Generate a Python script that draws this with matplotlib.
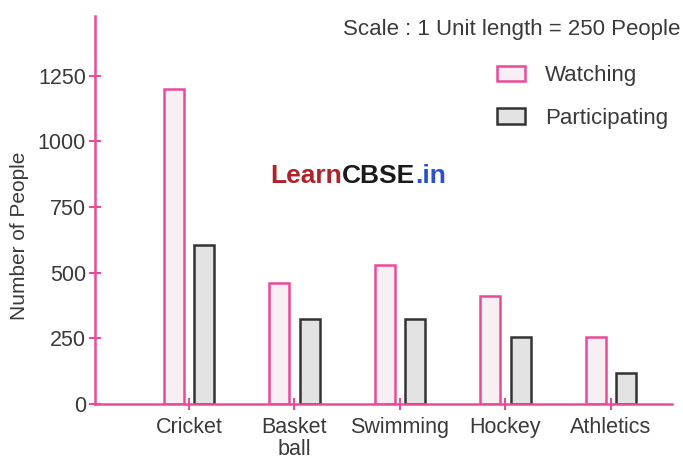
import numpy as np
import matplotlib.pyplot as plt
from matplotlib.patches import Patch

plt.rcParams['font.family'] = ['Liberation Sans', 'DejaVu Sans']

# data
sports = ['Cricket', 'Basket\nball', 'Swimming', 'Hockey', 'Athletics']
watching = [1200, 460, 530, 410, 255]
participating = [605, 325, 325, 255, 118]
y_ticks = [0, 250, 500, 750, 1000, 1250]

pink = '#ea4a98'
grey_edge = '#333333'
text_col = '#3a3a3a'

fig = plt.figure(figsize=(6.83, 4.61), dpi=100)
ax = fig.add_axes([0.139, 0.1236, 0.845, 0.8414])

x = np.arange(len(sports))
w = 0.19
off = 0.145
ax.bar(x - off, watching, width=w, facecolor='#f8eff4', edgecolor=pink, linewidth=1.8)
ax.bar(x + off, participating, width=w, facecolor='#e3e3e3', edgecolor=grey_edge, linewidth=1.8)

ax.set_xlim(-0.89, 4.58)
ax.set_ylim(0, 1476)

for side in ['top', 'right']:
    ax.spines[side].set_visible(False)
for side in ['left', 'bottom']:
    ax.spines[side].set_color(pink)
    ax.spines[side].set_linewidth(1.8)

ax.set_yticks(y_ticks)
ax.set_xticks(x)
ax.set_xticklabels(sports, linespacing=1.05)
ax.tick_params(axis='both', direction='inout', length=9, width=1.5, color=pink,
               labelcolor=text_col)
ax.tick_params(axis='y', labelsize=15.5, pad=2)
ax.tick_params(axis='x', labelsize=15.5, pad=5)

ax.set_ylabel('Number of People', fontsize=15, color=text_col)
ax.yaxis.set_label_coords(-0.114, 0.433)

fig.text(0.996, 0.936, 'Scale : 1 Unit length = 250 People', ha='right', va='center',
         fontsize=16, color=text_col)

handles = [Patch(facecolor='#f8eff4', edgecolor=pink, linewidth=1.8, label='Watching'),
           Patch(facecolor='#e3e3e3', edgecolor=grey_edge, linewidth=1.8, label='Participating')]
leg = fig.legend(handles=handles, loc='upper left', bbox_to_anchor=(0.728, 0.859),
                 frameon=False, fontsize=16, borderpad=0, borderaxespad=0,
                 handlelength=1.26, handleheight=0.68, handletextpad=0.9,
                 labelspacing=0.98)
for t in leg.get_texts():
    t.set_color(text_col)

# watermark
t1 = fig.text(0.395, 0.618, 'Learn', fontsize=19, fontweight='bold', color='#b0222a',
              va='center')
t2 = ax.annotate('CBSE', xy=(1, 0), xycoords=t1, va='bottom', fontsize=19,
                 fontweight='bold', color='#1a1a1a')
ax.annotate('.in', xy=(1, 0), xycoords=t2, va='bottom', fontsize=19,
            fontweight='bold', color='#2a4fd0')

fig.savefig('out.png', dpi=100)
